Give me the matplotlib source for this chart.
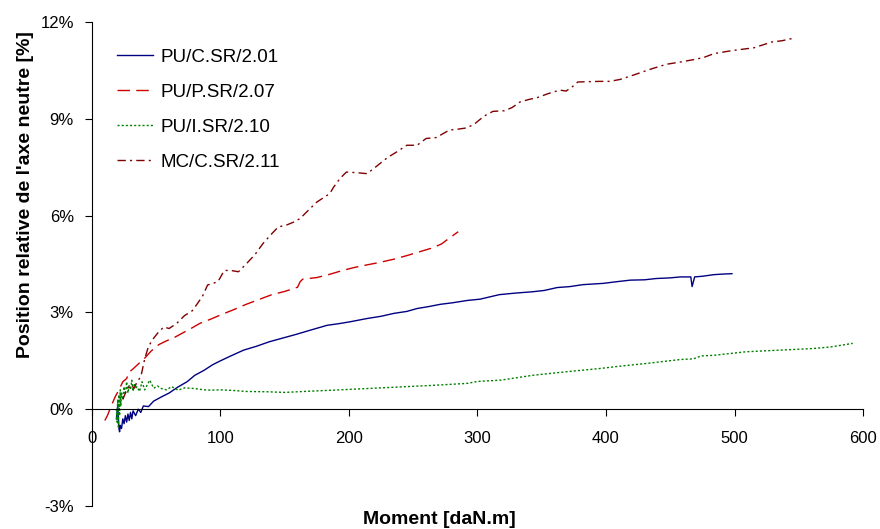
import matplotlib
matplotlib.use('Agg')
import matplotlib.pyplot as plt
from matplotlib.ticker import PercentFormatter

plt.rcParams['font.family'] = ['Liberation Sans', 'DejaVu Sans']
plt.rcParams['axes.unicode_minus'] = False

# PU/C.SR/2.01 (moment en daN.m, position en %)
blue_x = [19, 20, 20.5, 21, 21.5, 22, 23, 24, 25, 26, 27, 28, 29, 30, 31, 32, 34, 36, 38, 40,
          44, 48, 54, 60, 67, 74, 80, 87, 94, 100, 108, 118, 128, 138, 148, 159, 170, 183, 192,
          201, 214, 225, 235, 245, 253, 262, 271, 281, 292, 302, 317, 330, 343, 352, 362, 372,
          382, 398, 408, 419, 430, 439, 450, 458, 466, 467, 468, 469, 475, 484, 492, 498]
blue_y = [-0.3, 0.1, -0.2, -0.6, -0.7, -0.5, -0.6, -0.3, -0.45, -0.2, -0.4, -0.15, -0.35, -0.1,
          -0.3, -0.05, -0.2, 0.0, -0.1, 0.1, 0.08, 0.25, 0.38, 0.5, 0.69, 0.85, 1.05, 1.2, 1.38,
          1.5, 1.65, 1.83, 1.95, 2.09, 2.2, 2.32, 2.45, 2.6, 2.65, 2.71, 2.81, 2.88, 2.97, 3.03,
          3.12, 3.18, 3.25, 3.3, 3.37, 3.41, 3.55, 3.6, 3.64, 3.68, 3.77, 3.8, 3.86, 3.9, 3.95,
          4.0, 4.01, 4.05, 4.07, 4.1, 4.1, 3.8, 3.95, 4.1, 4.12, 4.17, 4.19, 4.2]

# PU/P.SR/2.07
red_x = [10, 12, 15, 18, 21, 24, 27, 29, 32, 36, 41, 46, 52, 57, 64, 70, 77, 84, 93, 100, 110,
         120, 130, 140, 150, 160, 162, 164, 175, 185, 195, 205, 215, 224, 235, 245, 255, 265,
         272, 278, 285]
red_y = [-0.35, -0.2, 0.1, 0.38, 0.6, 0.85, 0.95, 1.15, 1.25, 1.4, 1.58, 1.8, 2.0, 2.1, 2.22,
         2.35, 2.5, 2.66, 2.8, 2.92, 3.08, 3.25, 3.4, 3.55, 3.65, 3.78, 3.95, 4.03, 4.08, 4.18,
         4.3, 4.4, 4.48, 4.55, 4.65, 4.76, 4.88, 5.0, 5.12, 5.3, 5.5]

# PU/I.SR/2.10
green_x = [19, 19.5, 20, 20.5, 21, 21.5, 22, 22.5, 23, 24, 25, 26, 27, 28, 29, 30, 31, 32, 33,
           34, 35, 37, 39, 41, 43, 45, 48, 51, 54, 58, 62, 67, 72, 80, 87, 93, 100, 110, 120,
           136, 150, 165, 188, 214, 240, 266, 292, 300, 318, 343, 369, 395, 410, 432, 458, 468,
           474, 484, 509, 535, 561, 575, 592]
green_y = [0.0, -0.4, 0.3, -0.55, 0.45, -0.2, 0.6, 0.1, 0.5, 0.3, 0.7, 0.45, 0.85, 0.5, 0.75,
           0.6, 0.9, 0.55, 0.8, 0.65, 0.7, 0.55, 0.85, 0.6, 0.75, 0.9, 0.65, 0.72, 0.64, 0.6,
           0.7, 0.59, 0.66, 0.64, 0.6, 0.59, 0.6, 0.58, 0.55, 0.54, 0.52, 0.55, 0.59, 0.64,
           0.69, 0.74, 0.8, 0.86, 0.9, 1.05, 1.16, 1.26, 1.33, 1.42, 1.54, 1.56, 1.65, 1.67,
           1.78, 1.83, 1.88, 1.93, 2.04]

# MC/C.SR/2.11
maroon_x = [24, 27, 30, 33, 35, 38, 41, 44, 48, 52, 56, 60, 66, 72, 78, 82, 86, 90, 94, 98, 103,
            108, 114, 120, 127, 133, 139, 145, 151, 157, 162, 168, 175, 180, 185, 188, 193, 198,
            206, 214, 219, 224, 230, 237, 245, 253, 260, 268, 278, 285, 292, 298, 305, 312, 321,
            327, 333, 340, 346, 355, 364, 369, 374, 378, 385, 395, 403, 411, 421, 434, 447, 458,
            469, 476, 484, 499, 515, 529, 537, 545]
maroon_y = [0.3, 0.6, 0.75, 0.65, 0.85, 1.0, 1.55, 1.95, 2.2, 2.4, 2.55, 2.5, 2.66, 2.9, 3.05,
            3.27, 3.5, 3.85, 3.9, 3.95, 4.3, 4.3, 4.26, 4.5, 4.8, 5.13, 5.4, 5.65, 5.7, 5.8, 5.91,
            6.15, 6.42, 6.55, 6.68, 6.88, 7.15, 7.35, 7.33, 7.3, 7.45, 7.61, 7.8, 7.97, 8.18,
            8.18, 8.39, 8.42, 8.65, 8.68, 8.72, 8.85, 9.08, 9.23, 9.25, 9.35, 9.52, 9.6, 9.65,
            9.78, 9.89, 9.86, 10.0, 10.14, 10.15, 10.16, 10.16, 10.22, 10.35, 10.53, 10.69,
            10.76, 10.84, 10.9, 11.02, 11.12, 11.2, 11.38, 11.42, 11.49]

x_ticks = [0, 100, 200, 300, 400, 500, 600]
y_ticks = [-3, 0, 3, 6, 9, 12]

fig = plt.figure(figsize=(8.8, 5.29), dpi=100)
ax = fig.add_axes([0.1045, 0.0435, 0.8762, 0.9149])

ax.plot(blue_x, blue_y, color='#000080', lw=1, label='PU/C.SR/2.01')
ax.plot(red_x, red_y, color='#cc0000', lw=1, linestyle=(0, (9, 4.5)), label='PU/P.SR/2.07')
ax.plot(green_x, green_y, color='#008000', lw=1, linestyle=(0, (1.5, 1.5)), label='PU/I.SR/2.10')
ax.plot(maroon_x, maroon_y, color='#800000', lw=1, linestyle=(0, (6, 3, 1.5, 3)),
        label='MC/C.SR/2.11')

ax.set_xlim(0, 600)
ax.set_ylim(-3, 12)
ax.set_xticks(x_ticks)
ax.set_yticks(y_ticks)
ax.yaxis.set_major_formatter(PercentFormatter(xmax=100, decimals=0))

ax.spines['top'].set_visible(False)
ax.spines['right'].set_visible(False)
ax.spines['bottom'].set_position(('data', 0))
ax.spines['left'].set_linewidth(0.8)
ax.spines['bottom'].set_linewidth(0.8)
ax.tick_params(axis='x', direction='out', length=5, width=0.8, labelsize=12, pad=11)
ax.tick_params(axis='y', direction='out', length=5, width=0.8, labelsize=12, pad=8)

ax.set_xlabel('Moment [daN.m]', fontsize=14, fontweight='bold', labelpad=0)
ax.xaxis.set_label_coords(0.451, -0.01, transform=ax.transAxes)
ax.xaxis.label.set_verticalalignment('top')
ax.set_ylabel("Position relative de l'axe neutre [%]", fontsize=14, fontweight='bold')
ax.yaxis.set_label_coords(-0.075, 0.643)

ax.legend(loc='upper left', bbox_to_anchor=(0.023, 0.96), frameon=False, fontsize=13.5,
          handlelength=1.9, handletextpad=0.4, labelspacing=0.95, borderaxespad=0)

fig.savefig('out.png', dpi=100)
